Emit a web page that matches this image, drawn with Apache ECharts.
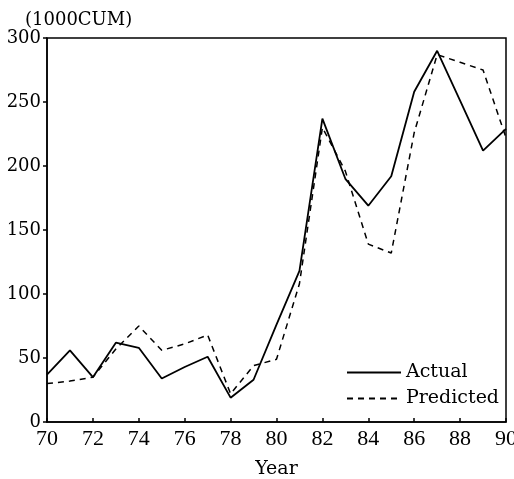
<!DOCTYPE html>
<html>
<head>
<meta charset="utf-8">
<script src="https://cdn.jsdelivr.net/npm/echarts@6/dist/echarts.min.js"></script>
<style>
  html, body { margin: 0; padding: 0; background: #fff; }
  #main { width: 514px; height: 479px; }
</style>
</head>
<body>
<div id="main"></div>
<script type="text/javascript">
  // data
  var years     = [70, 71, 72, 73, 74, 75, 76, 77, 78, 79, 80, 81, 82, 83, 84, 85, 86, 87, 88, 89, 90];
  var actual    = [37, 56, 35, 62, 58, 34, 43, 51, 19, 33, 76, 118, 237, 190, 169, 192, 258, 290, 251, 212, 229];
  var predicted = [30, 32, 35, 57, 75, 56, 61, 68, 22, 44, 49, 108, 230, 196, 139, 132, 226, 287, 281, 275, 222];
  var yTicks    = [0, 50, 100, 150, 200, 250, 300];

  function pairs(vals) {
    return years.map(function (y, i) { return [y, vals[i]]; });
  }

  var serif = 'DejaVu Serif';
  var myChart = echarts.init(document.getElementById('main'));

  option = {
    animation: false,
    title: {
      text: '(1000CUM)',
      left: 20,
      top: 6,
      textStyle: { fontFamily: serif, fontSize: 18, fontWeight: 'normal', color: '#000' }
    },
    grid: {
      left: 47, right: 8, top: 38, bottom: 57,
      outerBoundsMode: 'none',
      show: true, borderColor: '#000', borderWidth: 1.5
    },
    legend: {
      orient: 'vertical',
      left: 341,
      top: 358,
      itemWidth: 54,
      itemHeight: 10,
      itemGap: 7,
      itemStyle: { opacity: 0 },
      data: ['Actual', 'Predicted'],
      textStyle: { fontFamily: serif, fontSize: 19, color: '#000' }
    },
    xAxis: {
      type: 'value',
      min: 70, max: 90, interval: 2,
      name: 'Year',
      nameLocation: 'middle',
      nameGap: 38,
      nameTextStyle: { fontFamily: serif, fontSize: 19, color: '#000' },
      splitLine: { show: false },
      axisLine: { lineStyle: { color: '#000', width: 1.5 } },
      axisTick: { inside: true, length: 4, lineStyle: { color: '#000', width: 1.5 } },
      axisLabel: { fontFamily: 'Liberation Serif', fontSize: 22, color: '#000', margin: 6 }
    },
    yAxis: {
      type: 'value',
      min: yTicks[0], max: yTicks[yTicks.length - 1], interval: 50,
      splitLine: { show: false },
      axisLine: { show: true, lineStyle: { color: '#000', width: 1.5 } },
      axisTick: { show: true, length: 4, lineStyle: { color: '#000', width: 1.5 } },
      axisLabel: { fontFamily: serif, fontSize: 18, color: '#000', margin: 6 }
    },
    series: [
      {
        name: 'Actual',
        type: 'line',
        symbol: 'none',
        data: pairs(actual),
        lineStyle: { color: '#000', width: 1.8 },
        itemStyle: { color: '#000' }
      },
      {
        name: 'Predicted',
        type: 'line',
        symbol: 'none',
        data: pairs(predicted),
        lineStyle: { color: '#000', width: 1.5, type: [6, 5] },
        itemStyle: { color: '#000' }
      }
    ]
  };

  myChart.setOption(option);
</script>
</body>
</html>
